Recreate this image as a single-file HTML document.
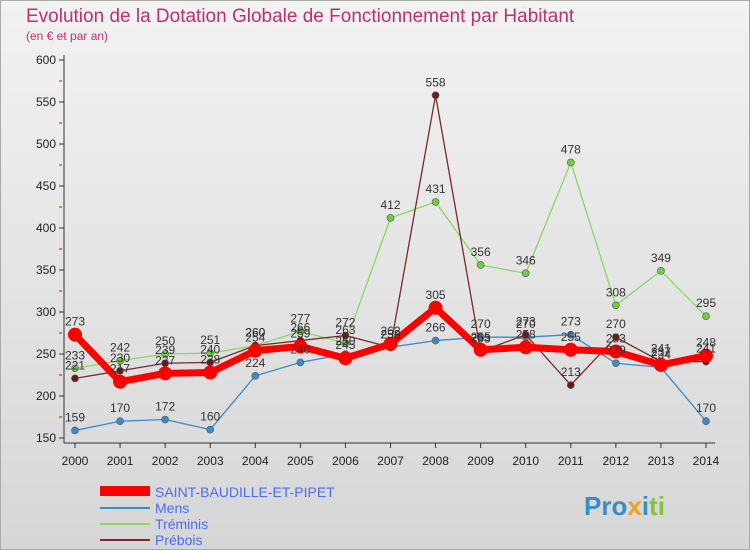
<!DOCTYPE html>
<html><head><meta charset="utf-8"><style>
body{margin:0;width:750px;height:550px;overflow:hidden;font-family:"Liberation Sans",sans-serif}
#c{position:absolute;left:0;top:0}
</style></head><body>
<svg id="c" width="750" height="550" xmlns="http://www.w3.org/2000/svg">
<defs><linearGradient id="bg" x1="0" y1="0" x2="0" y2="1"><stop offset="0" stop-color="#f2f2f2"/><stop offset="1" stop-color="#d6d6d6"/></linearGradient></defs>
<rect width="750" height="550" fill="url(#bg)"/>
<rect x="0.5" y="0.5" width="749" height="549" fill="none" stroke="#aaa"/>
<text x="26" y="22" font-size="19" fill="#c0306a">Evolution de la Dotation Globale de Fonctionnement par Habitant</text>
<text x="26" y="40" font-size="12" fill="#c0306a">(en € et par an)</text>
<g id="axes"></g><g id="series"></g><g id="labels"></g>
<g>
<rect x="100" y="486" width="50" height="10" fill="#ff0000"/>
<text x="155" y="497" font-size="14" fill="#4a6cf7">SAINT-BAUDILLE-ET-PIPET</text>
<line x1="100" y1="508" x2="150" y2="508" stroke="#3a8cc8" stroke-width="2"/>
<text x="155" y="513" font-size="14" fill="#4a6cf7">Mens</text>
<line x1="100" y1="524" x2="150" y2="524" stroke="#88d860" stroke-width="2"/>
<text x="155" y="529" font-size="14" fill="#4a6cf7">Tréminis</text>
<line x1="100" y1="540" x2="150" y2="540" stroke="#7a2a2a" stroke-width="2"/>
<text x="155" y="545" font-size="14" fill="#4a6cf7">Prébois</text>
</g>
<text x="584" y="515" font-size="26" font-weight="bold"><tspan fill="#3a8cc8">Pro</tspan><tspan fill="#f0a020">x</tspan><tspan fill="#3a8cc8">i</tspan><tspan fill="#88c040">ti</tspan></text>
</svg>
<script>
const years=[2000,2001,2002,2003,2004,2005,2006,2007,2008,2009,2010,2011,2012,2013,2014];
const yTicks=[150,200,250,300,350,400,450,500,550,600];
const saint=[273,217,227,228,254,259,245,262,305,255,258,255,253,237,248];
const mens=[159,170,172,160,224,240,250,258,266,270,270,273,239,234,170];
const treminis=[233,242,250,251,260,277,263,412,431,356,346,478,308,349,295];
const prebois=[221,230,239,240,260,266,272,258,558,253,273,213,270,241,241];
const NS="http://www.w3.org/2000/svg";
const x=i=>75+i*(706-75)/14;
const y=v=>438-(v-150)*(438-60)/450;
function mk(p,tag,a){const e=document.createElementNS(NS,tag);for(const k in a)e.setAttribute(k,a[k]);p.appendChild(e);return e;}
const ax=document.getElementById('axes'),se=document.getElementById('series'),lb=document.getElementById('labels');
let l=mk(ax,'line',{x1:64,y1:55,x2:64,y2:443,stroke:'#333'});


l=mk(ax,'line',{x1:64,y1:443,x2:715,y2:443,stroke:'#333'});


yTicks.forEach(v=>{
 mk(ax,'line',{x1:59,y1:y(v),x2:64,y2:y(v),stroke:'#333'});
 if(v<600)mk(ax,'line',{x1:59,y1:y(v+25),x2:62,y2:y(v+25),stroke:'#e00'});
 const t=mk(ax,'text',{x:56,y:y(v)+4,'font-size':12,'text-anchor':'end',fill:'#222'});t.textContent=v;
 
 
});
years.forEach((yr,i)=>{
 mk(ax,'line',{x1:x(i),y1:443,x2:x(i),y2:448,stroke:'#333'});
 const t=mk(ax,'text',{x:x(i),y:465,'font-size':12,'text-anchor':'middle',fill:'#222'});t.textContent=yr;
 
 
});
function draw(data,name,color,w,r,fill){
 const pl=mk(se,'polyline',{points:data.map((v,i)=>x(i)+','+y(v)).join(' '),fill:'none',stroke:color,'stroke-width':w,'stroke-linejoin':'round'});
 
 
 data.forEach((v,i)=>{
  const c=mk(se,'circle',{cx:x(i),cy:y(v),r:r,fill:fill,stroke:'#555','stroke-width':w>4?0:0.6});
  
  
  const t=mk(lb,'text',{x:x(i),y:y(v)-9,'font-size':12,'text-anchor':'middle',fill:'#333'});t.textContent=v;
  
  
 });
}
draw(mens,'mens','#3a8cc8',1.3,3.5,'#3a8cc8');
draw(treminis,'treminis','#88d860',1.3,3.5,'#70cc40');
draw(prebois,'prebois','#7a2a2a',1.3,3.5,'#6a1a1a');
draw(saint,'saint-baudille','#ff0000',7,7,'#ff0000');
</script>
</body></html>
